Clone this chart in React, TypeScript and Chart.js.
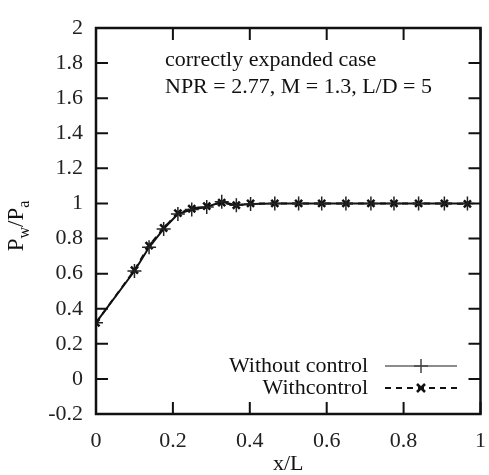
import React, { useEffect, useRef } from "react";
import { Chart, registerables } from "chart.js";

Chart.register(...registerables);

const xPositions = [0, 0.1, 0.138, 0.176, 0.213, 0.249, 0.288, 0.327, 0.365, 0.402, 0.465, 0.527, 0.587, 0.65, 0.715, 0.775, 0.839, 0.906, 0.966];
const withoutControl = [0.32, 0.615, 0.75, 0.855, 0.94, 0.965, 0.98, 1.01, 0.99, 0.997, 1.0, 1.0, 1.0, 1.0, 1.0, 1.0, 1.0, 1.0, 1.0];
const withControl = [0.32, 0.62, 0.76, 0.86, 0.945, 0.97, 0.985, 1.005, 0.99, 1.0, 1.0, 1.0, 1.0, 1.0, 1.0, 1.0, 1.0, 1.0, 0.998];
const xTicks = [0, 0.2, 0.4, 0.6, 0.8, 1];
const yTicks = [-0.2, 0, 0.2, 0.4, 0.6, 0.8, 1, 1.2, 1.4, 1.6, 1.8, 2];
const annotationLines = ["correctly expanded case", "NPR = 2.77, M = 1.3, L/D = 5"];
const seriesLabels = ["Without control", "Withcontrol"];

const FONT = "'Liberation Serif', 'DejaVu Serif', serif";

const decorPlugin = {
  id: "decor",
  afterDraw(chart: any) {
    const { ctx, chartArea } = chart;
    const { left, right, top, bottom } = chartArea;
    const xs = chart.scales.x;
    const ys = chart.scales.y;
    ctx.save();
    // frame
    ctx.strokeStyle = "#111";
    ctx.lineWidth = 2.5;
    ctx.strokeRect(left, top, right - left, bottom - top);
    // inside ticks
    const tl = 12;
    ctx.lineWidth = 2;
    ctx.beginPath();
    xTicks.forEach((v) => {
      const px = xs.getPixelForValue(v);
      ctx.moveTo(px, bottom);
      ctx.lineTo(px, bottom - tl);
      ctx.moveTo(px, top);
      ctx.lineTo(px, top + tl);
    });
    yTicks.forEach((v) => {
      const py = ys.getPixelForValue(v);
      ctx.moveTo(left, py);
      ctx.lineTo(left + tl, py);
      ctx.moveTo(right, py);
      ctx.lineTo(right - tl, py);
    });
    ctx.stroke();

    // annotation
    ctx.fillStyle = "#111";
    ctx.font = `22px ${FONT}`;
    ctx.textAlign = "left";
    ctx.textBaseline = "middle";
    annotationLines.forEach((t, i) => {
      ctx.fillText(t, 165, 60 + i * 27);
    });

    // legend
    const rows = [366, 388];
    chart.data.datasets.forEach((ds: any, i: number) => {
      const y = rows[i];
      ctx.fillStyle = "#111";
      ctx.textAlign = "right";
      ctx.fillText(seriesLabels[i], 368, y);
      ctx.beginPath();
      if (i === 0) {
        ctx.strokeStyle = "#666";
        ctx.lineWidth = 1.5;
        ctx.setLineDash([]);
      } else {
        ctx.strokeStyle = "#111";
        ctx.lineWidth = 2;
        ctx.setLineDash([6, 5]);
      }
      ctx.moveTo(385, y);
      ctx.lineTo(457, y);
      ctx.stroke();
      ctx.setLineDash([]);
      ctx.beginPath();
      ctx.strokeStyle = i === 0 ? "#444" : "#111";
      ctx.lineWidth = i === 0 ? 1.5 : 2.5;
      if (i === 0) {
        ctx.moveTo(421 - 7, y);
        ctx.lineTo(421 + 7, y);
        ctx.moveTo(421, y - 7);
        ctx.lineTo(421, y + 7);
      } else {
        ctx.moveTo(421 - 4, y - 4);
        ctx.lineTo(421 + 4, y + 4);
        ctx.moveTo(421 + 4, y - 4);
        ctx.lineTo(421 - 4, y + 4);
      }
      ctx.stroke();
    });

    // x title
    ctx.fillStyle = "#111";
    ctx.textAlign = "center";
    ctx.textBaseline = "middle";
    ctx.font = `22px ${FONT}`;
    ctx.fillText("x/L", (left + right) / 2, 464);

    // y title with subscripts
    ctx.save();
    ctx.translate(23, 226);
    ctx.rotate(-Math.PI / 2);
    ctx.textBaseline = "alphabetic";
    ctx.textAlign = "left";
    const parts: [string, number, number][] = [
      ["P", 23, 0],
      ["w", 16, 6],
      ["/P", 23, 0],
      ["a", 16, 6],
    ];
    let total = 0;
    parts.forEach(([t, s]) => {
      ctx.font = `${s}px ${FONT}`;
      total += ctx.measureText(t).width;
    });
    let x = -total / 2;
    parts.forEach(([t, s, dy]) => {
      ctx.font = `${s}px ${FONT}`;
      ctx.fillText(t, x, dy);
      x += ctx.measureText(t).width;
    });
    ctx.restore();
    ctx.restore();
  },
};

export default function App() {
  const ref = useRef<HTMLCanvasElement | null>(null);
  useEffect(() => {
    document.body.style.margin = "0";
    const canvas = ref.current!;
    const chart = new Chart(canvas, {
      type: "line",
      data: {
        datasets: [
          {
            label: seriesLabels[0],
            data: xPositions.map((x, i) => ({ x, y: withoutControl[i] })),
            borderColor: "#111",
            borderWidth: 2,
            pointStyle: "cross",
            pointRadius: 7,
            pointBorderColor: "#222",
            pointBorderWidth: 1.5,
            pointBackgroundColor: "#222",
            fill: false,
            tension: 0,
          },
          {
            label: seriesLabels[1],
            data: xPositions.map((x, i) => ({ x, y: withControl[i] })),
            borderColor: "#111",
            borderWidth: 2,
            borderDash: [6, 5],
            pointStyle: "crossRot",
            pointRadius: 5,
            pointBorderColor: "#111",
            pointBorderWidth: 2.5,
            pointBackgroundColor: "#111",
            fill: false,
            tension: 0,
          },
        ],
      },
      options: {
        animation: false,
        responsive: false,
        maintainAspectRatio: false,
        layout: { padding: { left: 0, right: 6, top: 28, bottom: 0 } },
        plugins: {
          legend: { display: false },
          tooltip: { enabled: false },
        },
        scales: {
          x: {
            type: "linear",
            min: 0,
            max: 1,
            afterFit: (s: any) => {
              s.height = 61;
              s.paddingLeft = 0;
              s.paddingRight = 0;
            },
            afterBuildTicks: (s: any) => {
              s.ticks = xTicks.map((v) => ({ value: v }));
            },
            grid: { display: false, drawTicks: false },
            border: { display: false },
            ticks: {
              padding: 14,
              maxRotation: 0,
              autoSkip: false,
              color: "#222",
              font: { family: FONT, size: 22 },
              callback: (v: any) => String(Math.round(Number(v) * 10) / 10),
            },
          },
          y: {
            type: "linear",
            min: -0.2,
            max: 2,
            afterFit: (s: any) => {
              s.width = 96;
              s.paddingTop = 0;
              s.paddingBottom = 0;
            },
            afterBuildTicks: (s: any) => {
              s.ticks = yTicks.map((v) => ({ value: v }));
            },
            grid: { display: false, drawTicks: false },
            border: { display: false },
            ticks: {
              padding: 13,
              autoSkip: false,
              color: "#222",
              font: { family: FONT, size: 22 },
              callback: (v: any) => String(Math.round(Number(v) * 10) / 10),
            },
          },
        },
      },
      plugins: [decorPlugin],
    });
    return () => chart.destroy();
  }, []);
  return (
    <div style={{ position: "absolute", left: 0, top: 0, width: 489, height: 475, background: "#fff" }}>
      <canvas ref={ref} width={489} height={475} />
    </div>
  );
}
